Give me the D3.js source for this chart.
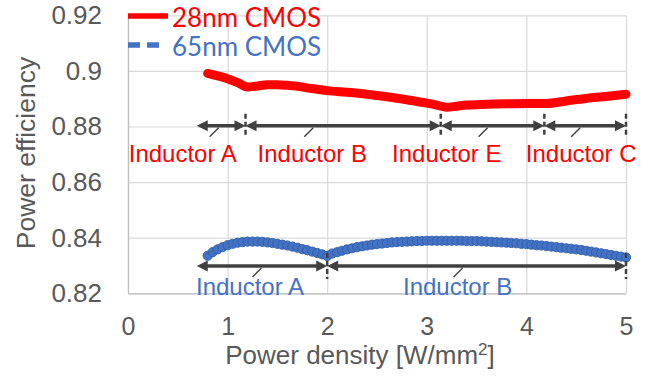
<!DOCTYPE html>
<html>
<head>
<meta charset="utf-8">
<script src="https://cdn.jsdelivr.net/npm/d3@7"></script>
<style>
  body { margin: 0; background: #fff; }
  svg { display: block; }
</style>
</head>
<body>
<svg id="chart" width="664" height="388"></svg>
<script>
// ---- data ----
const xTicks = [0, 1, 2, 3, 4, 5];
const yTicks = [0.82, 0.84, 0.86, 0.88, 0.9, 0.92];
const yTickLabels = ["0.82", "0.84", "0.86", "0.88", "0.9", "0.92"];
const seriesNames = ["28nm CMOS", "65nm CMOS"];
const xTitle = "Power density [W/mm";
const yTitle = "Power efficiency";

// 28nm CMOS: efficiency vs power density
const density28 = [0.8, 0.9, 1.0, 1.1, 1.2, 1.3, 1.4, 1.5, 1.6, 1.7, 1.8, 1.9, 2.0, 2.2, 2.4, 2.6, 2.8, 3.0, 3.1, 3.2, 3.3, 3.4, 3.6, 3.8, 4.0, 4.2, 4.4, 4.6, 4.8, 5.0];
const eff28 = [0.8991, 0.8982, 0.8972, 0.8958, 0.8942, 0.8946, 0.8950, 0.8950, 0.8948, 0.8945, 0.8939, 0.8934, 0.8929, 0.8923, 0.8916, 0.8907, 0.8896, 0.8884, 0.8877, 0.8869, 0.8873, 0.8877, 0.8880, 0.8882, 0.8883, 0.8883, 0.8892, 0.8901, 0.8908, 0.8916];

// 65nm CMOS: efficiency vs power density
const density65 = [0.80, 0.85, 0.90, 0.95, 1.00, 1.05, 1.10, 1.15, 1.20, 1.25, 1.30, 1.35, 1.40, 1.45, 1.50, 1.55, 1.60, 1.65, 1.70, 1.75, 1.80, 1.85, 1.90, 1.95, 2.00,
  2.05, 2.10, 2.15, 2.20, 2.25, 2.30, 2.35, 2.40, 2.45, 2.50, 2.55, 2.60, 2.65, 2.70, 2.75, 2.80, 2.85, 2.90, 2.95, 3.00,
  3.05, 3.10, 3.15, 3.20, 3.25, 3.30, 3.35, 3.40, 3.45, 3.50, 3.55, 3.60, 3.65, 3.70, 3.75, 3.80, 3.85, 3.90, 3.95, 4.00,
  4.05, 4.10, 4.15, 4.20, 4.25, 4.30, 4.35, 4.40, 4.45, 4.50, 4.55, 4.60, 4.65, 4.70, 4.75, 4.80, 4.85, 4.90, 4.95, 5.00];
const eff65 = [0.8335, 0.8348, 0.8358, 0.8366, 0.8373, 0.8378, 0.8382, 0.8384, 0.8386, 0.8386, 0.8386, 0.8385, 0.8383, 0.8381, 0.8378, 0.8375, 0.8372, 0.8368, 0.8364, 0.8359, 0.8355, 0.8350, 0.8345, 0.8340, 0.8334,
  0.8343, 0.8348, 0.8353, 0.8358, 0.8362, 0.8366, 0.8369, 0.8372, 0.8375, 0.8377, 0.8379, 0.8381, 0.8383, 0.8384, 0.8385, 0.8386, 0.8387, 0.8388, 0.8388, 0.8389,
  0.8389, 0.8389, 0.8389, 0.8389, 0.8389, 0.8389, 0.8389, 0.8388, 0.8388, 0.8388, 0.8387, 0.8386, 0.8385, 0.8384, 0.8383, 0.8382, 0.8381, 0.8380, 0.8378, 0.8377,
  0.8375, 0.8373, 0.8372, 0.8370, 0.8368, 0.8366, 0.8364, 0.8362, 0.8360, 0.8358, 0.8356, 0.8353, 0.8350, 0.8347, 0.8344, 0.8341, 0.8338, 0.8335, 0.8332, 0.8329];

// inductor ranges (W/mm²) for each process
const bounds28 = [0.69, 1.18, 3.14, 4.18, 5.0];
const labels28 = ["Inductor A", "Inductor B", "Inductor E", "Inductor C"];
const labelAt28 = [0.55, 1.85, 3.2, 4.55];
const leaderAt28 = [0.91, 1.86, 3.61, 4.54];
const level28 = 0.8803;

const bounds65 = [0.69, 2.0, 5.0];
const labels65 = ["Inductor A", "Inductor B"];
const labelAt65 = [1.225, 3.31];
const leaderAt65 = [1.34, 3.36];
const level65 = 0.8298;

// ---- layout ----
const RED = "#ff0000", BLUE = "#4472c4", INK = "#404040", TEXT = "#595959";
const svg = d3.select("#chart");
const x = d3.scaleLinear([0, 5], [128, 626]);
const y = d3.scaleLinear([0.82, 0.92], [293.3, 15.3]);
const sans = "'Liberation Sans', Arial, sans-serif";

// gridlines + y axis
const yAxis = svg.append("g").attr("transform", `translate(${x(0)},0)`)
  .call(d3.axisLeft(y).tickValues(yTicks).tickFormat((d, i) => yTickLabels[i])
    .tickSizeInner(-(x(5) - x(0))).tickSizeOuter(0).tickPadding(26));
yAxis.selectAll(".tick line").attr("stroke", "#d9d9d9").attr("stroke-width", 1.2);
yAxis.select(".domain").attr("stroke", "#bfbfbf").attr("stroke-width", 1.2);
yAxis.selectAll(".tick text").attr("fill", TEXT).style("font", `26px ${sans}`);

const xAxis = svg.append("g").attr("transform", `translate(0,${y(0.82)})`)
  .call(d3.axisBottom(x).tickValues(xTicks).tickFormat(d3.format("d"))
    .tickSizeInner(-(y(0.82) - y(0.92))).tickSizeOuter(0).tickPadding(24));
xAxis.selectAll(".tick line").attr("stroke", "#d9d9d9").attr("stroke-width", 1.2);
xAxis.select(".domain").attr("stroke", "#bfbfbf").attr("stroke-width", 1.2);
xAxis.selectAll(".tick text").attr("fill", TEXT).style("font", `25px ${sans}`);
// keep axis lines above the gridlines
yAxis.select(".domain").raise();
xAxis.raise();
xAxis.selectAll(".tick line").filter(d => d === 0).attr("stroke", "#bfbfbf");

// axis titles
const xt = svg.append("text").attr("x", 360).attr("y", 364)
  .attr("text-anchor", "middle").attr("fill", TEXT).style("font", `26px ${sans}`);
xt.append("tspan").text(xTitle);
xt.append("tspan").attr("dy", -9).style("font-size", "17px").text("2");
xt.append("tspan").attr("dy", 9).text("]");

svg.append("text").attr("transform", "translate(35,153) rotate(-90)")
  .attr("text-anchor", "middle").attr("fill", TEXT).style("font", `26.5px ${sans}`)
  .text(yTitle);

// 28nm curve
const pts28 = density28.map((d, i) => [d, eff28[i]]);
svg.append("path").datum(pts28)
  .attr("d", d3.line().x(d => x(d[0])).y(d => y(d[1])).curve(d3.curveMonotoneX))
  .attr("fill", "none").attr("stroke", RED).attr("stroke-width", 9)
  .attr("stroke-linecap", "round").attr("stroke-linejoin", "round");

// 65nm markers
const pts65 = density65.map((d, i) => [d, eff65[i]]);
svg.append("g").selectAll("circle").data(pts65).join("circle")
  .attr("cx", d => x(d[0])).attr("cy", d => y(d[1])).attr("r", 4.6)
  .attr("fill", BLUE).attr("stroke", "#2f5ea8").attr("stroke-width", 0.9);

// inductor range annotations
function ranges(bounds, labels, labelAt, leaderAt, level, color, divHalf, labelDy) {
  const g = svg.append("g");
  const ly = y(level);
  const head = 11, half = 5.5;
  for (let i = 0; i < labels.length; i++) {
    const a = x(bounds[i]), b = x(bounds[i + 1]);
    g.append("line").attr("x1", a + 6).attr("x2", b - 6).attr("y1", ly).attr("y2", ly)
      .attr("stroke", INK).attr("stroke-width", 3.5);
    g.append("path").attr("d", `M${a},${ly} L${a + head},${ly - half} L${a + head},${ly + half} Z`).attr("fill", INK);
    g.append("path").attr("d", `M${b},${ly} L${b - head},${ly - half} L${b - head},${ly + half} Z`).attr("fill", INK);
    const lx = x(leaderAt[i]);
    g.append("line").attr("x1", lx).attr("y1", ly + 2).attr("x2", lx - 9).attr("y2", ly + 11)
      .attr("stroke", INK).attr("stroke-width", 1.4);
    g.append("text").attr("x", x(labelAt[i])).attr("y", ly + labelDy)
      .attr("text-anchor", "middle").attr("fill", color).style("font", `24px ${sans}`)
      .text(labels[i]);
  }
  bounds.slice(1).forEach(v => {
    g.append("line").attr("x1", x(v)).attr("x2", x(v)).attr("y1", ly - divHalf).attr("y2", ly + divHalf)
      .attr("stroke", INK).attr("stroke-width", 2.5).attr("stroke-dasharray", "5,3");
  });
}
ranges(bounds28, labels28, labelAt28, leaderAt28, level28, RED, 12, 36);
ranges(bounds65, labels65, labelAt65, leaderAt65, level65, BLUE, 13, 29);

// legend
const legendFont = "Lato, 'Noto Sans', sans-serif";
svg.append("line").attr("x1", 128).attr("x2", 168).attr("y1", 16).attr("y2", 16)
  .attr("stroke", RED).attr("stroke-width", 5.5);
svg.append("text").attr("x", 172).attr("y", 27).attr("fill", RED)
  .style("font", `26px ${legendFont}`).text(seriesNames[0]);
svg.append("line").attr("x1", 128).attr("x2", 164).attr("y1", 45).attr("y2", 45)
  .attr("stroke", BLUE).attr("stroke-width", 5.5).attr("stroke-dasharray", "12,7");
svg.append("text").attr("x", 172).attr("y", 56).attr("fill", BLUE)
  .style("font", `26px ${legendFont}`).text(seriesNames[1]);
</script>
</body>
</html>
